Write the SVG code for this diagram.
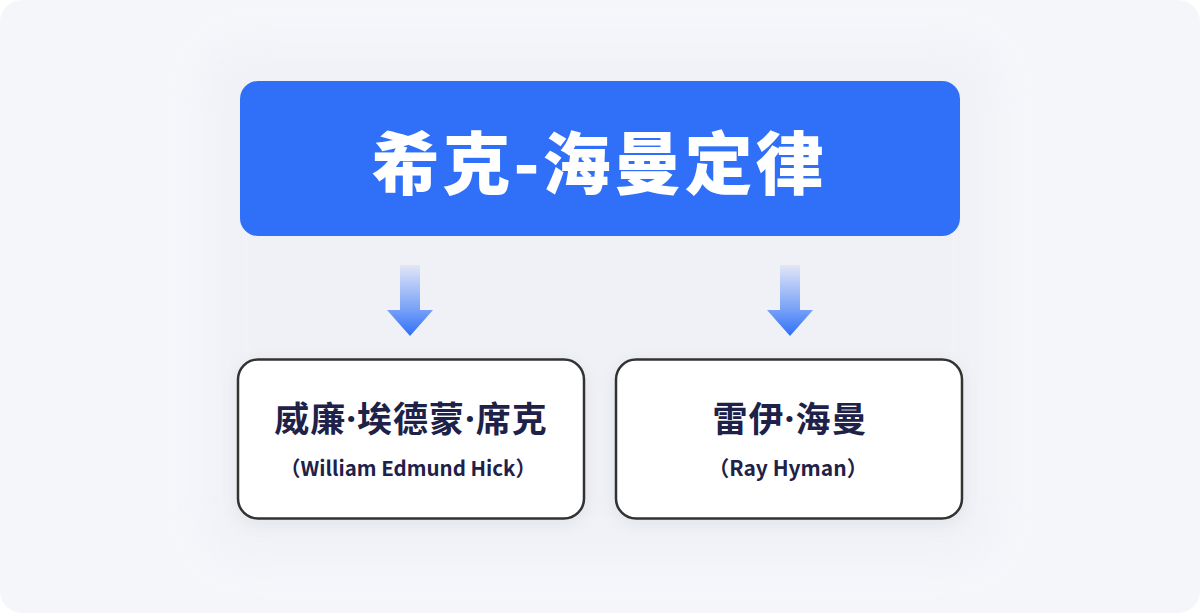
<svg xmlns="http://www.w3.org/2000/svg" width="1200" height="613" viewBox="0 0 1200 613">
  <defs>
    <linearGradient id="arrowGrad" x1="0" y1="0" x2="0" y2="1">
      <stop offset="0" stop-color="#3070f8" stop-opacity="0.08"/>
      <stop offset="0.6" stop-color="#3070f8" stop-opacity="0.6"/>
      <stop offset="1" stop-color="#3070f8" stop-opacity="1"/>
    </linearGradient>
    <filter id="soft" x="-20%" y="-20%" width="140%" height="140%">
      <feGaussianBlur stdDeviation="18"/>
    </filter>
    <filter id="shadow" x="-10%" y="-10%" width="120%" height="130%">
      <feDropShadow dx="0" dy="4" stdDeviation="8" flood-color="#1e2148" flood-opacity="0.06"/>
    </filter>
  </defs>
  <style>
    .title { font-family: "Noto Sans CJK SC", "Noto Sans", sans-serif; font-weight: 900; fill: #ffffff; }
    .name { font-family: "Noto Sans CJK SC", "Noto Sans", sans-serif; font-weight: 700; fill: #1e2148; }
    .dot { font-family: "Noto Sans", "Liberation Sans", sans-serif; font-weight: 700; }
    .sub { font-family: "Noto Sans CJK SC", "Noto Sans", sans-serif; font-weight: 700; fill: #1e2148; }
    .card { fill: #ffffff; stroke: #333333; stroke-width: 2.5; }
    .arrow { fill: url(#arrowGrad); }
  </style>
  <rect x="0" y="0" width="1200" height="613" fill="#ffffff"/>
  <rect x="0" y="0" width="1200" height="613" rx="22" fill="#f5f6fa"/>
  <rect x="205" y="45" width="790" height="515" rx="40" fill="#eef0f5" opacity="0.7" filter="url(#soft)"/>

  <g id="title-node">
    <rect x="240" y="81" width="720" height="155" rx="18" fill="#3070f8"/>
    <text class="title" x="599" y="189" font-size="68" text-anchor="middle" letter-spacing="3">希克-海曼定律</text>
  </g>

  <g id="connectors">
    <path class="arrow" d="M400,265 H420 V310 H433 L410,336 L387,310 H400 Z"/>
    <path class="arrow" d="M780,265 H800 V310 H813 L790,336 L767,310 H780 Z"/>
  </g>

  <g id="hick-node">
    <rect class="card" x="238" y="359.5" width="346" height="159" rx="20" filter="url(#shadow)"/>
    <text class="name" x="411" y="432" font-size="35" text-anchor="middle" letter-spacing="1">威廉<tspan class="dot">·</tspan>埃德蒙<tspan class="dot">·</tspan>席克</text>
    <text class="sub" x="408" y="476" font-size="20.5" text-anchor="middle">（William Edmund Hick）</text>
  </g>

  <g id="hyman-node">
    <rect class="card" x="616" y="359.5" width="346" height="159" rx="20" filter="url(#shadow)"/>
    <text class="name" x="790" y="432" font-size="35" text-anchor="middle" letter-spacing="1">雷伊<tspan class="dot">·</tspan>海曼</text>
    <text class="sub" x="788" y="476" font-size="21" text-anchor="middle">（Ray Hyman）</text>
  </g>
</svg>
